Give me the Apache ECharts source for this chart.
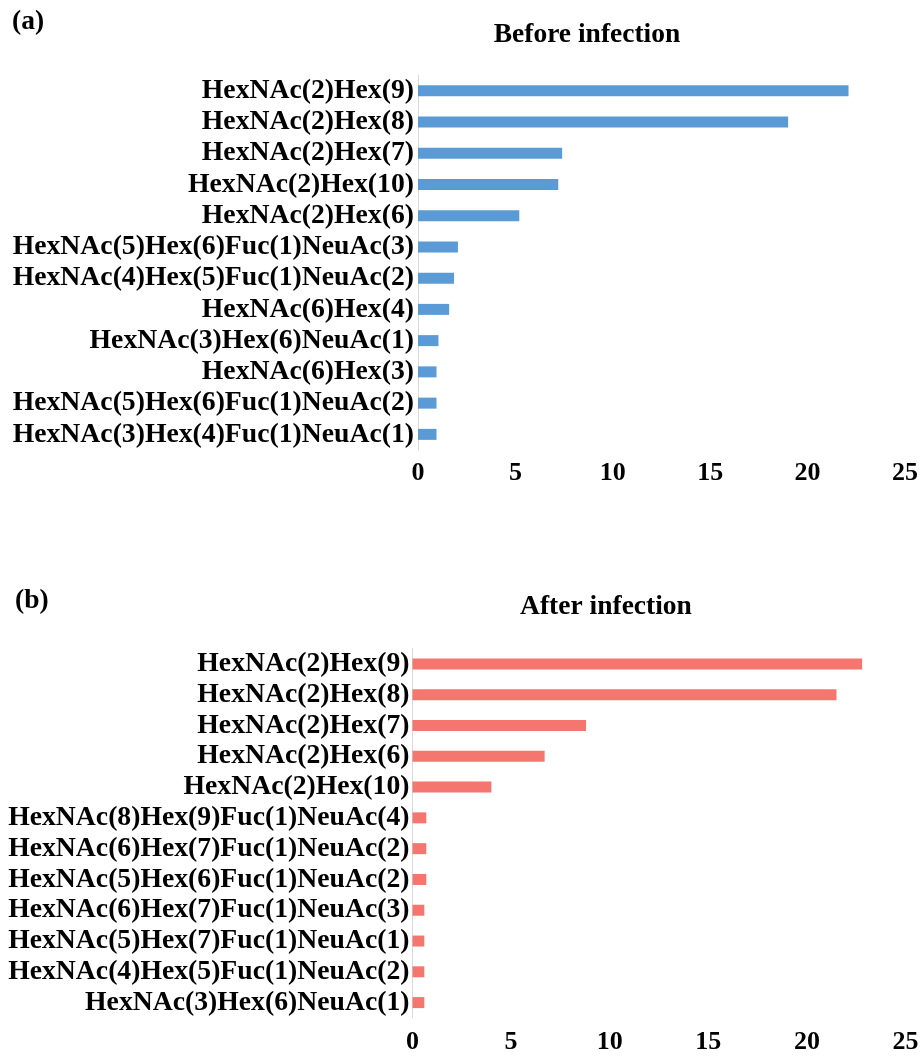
<!DOCTYPE html>
<html>
<head>
<meta charset="utf-8">
<style>
  html, body { margin: 0; padding: 0; background: #fff; }
  #chart { width: 922px; height: 1064px; }
</style>
<script src="https://cdn.jsdelivr.net/npm/echarts@6/dist/echarts.min.js"></script>
</head>
<body>
<div id="chart"></div>
<script>
// Glycan compositions and relative abundance (%), top row first
const beforeGlycans = [
  'HexNAc(2)Hex(9)', 'HexNAc(2)Hex(8)', 'HexNAc(2)Hex(7)', 'HexNAc(2)Hex(10)',
  'HexNAc(2)Hex(6)', 'HexNAc(5)Hex(6)Fuc(1)NeuAc(3)', 'HexNAc(4)Hex(5)Fuc(1)NeuAc(2)',
  'HexNAc(6)Hex(4)', 'HexNAc(3)Hex(6)NeuAc(1)', 'HexNAc(6)Hex(3)',
  'HexNAc(5)Hex(6)Fuc(1)NeuAc(2)', 'HexNAc(3)Hex(4)Fuc(1)NeuAc(1)'
];
const beforeValues = [22.1, 19.0, 7.4, 7.2, 5.2, 2.05, 1.85, 1.6, 1.05, 0.95, 0.95, 0.95];

const afterGlycans = [
  'HexNAc(2)Hex(9)', 'HexNAc(2)Hex(8)', 'HexNAc(2)Hex(7)', 'HexNAc(2)Hex(6)',
  'HexNAc(2)Hex(10)', 'HexNAc(8)Hex(9)Fuc(1)NeuAc(4)', 'HexNAc(6)Hex(7)Fuc(1)NeuAc(2)',
  'HexNAc(5)Hex(6)Fuc(1)NeuAc(2)', 'HexNAc(6)Hex(7)Fuc(1)NeuAc(3)',
  'HexNAc(5)Hex(7)Fuc(1)NeuAc(1)', 'HexNAc(4)Hex(5)Fuc(1)NeuAc(2)', 'HexNAc(3)Hex(6)NeuAc(1)'
];
const afterValues = [22.8, 21.5, 8.8, 6.7, 4.0, 0.7, 0.7, 0.7, 0.6, 0.6, 0.6, 0.6];

const xTicks = { min: 0, max: 25, interval: 5 };
const panelTitles = ['Before infection', 'After infection'];
const panelTags = ['(a)', '(b)'];

const FONT = '"Liberation Serif", "Times New Roman", serif';
const chart = echarts.init(document.getElementById('chart'), null, { renderer: 'canvas' });

function valueAxis(gridIndex, margin) {
  return {
    type: 'value', gridIndex, min: xTicks.min, max: xTicks.max, interval: xTicks.interval,
    axisLine: { show: false }, axisTick: { show: false }, splitLine: { show: false },
    axisLabel: { color: '#000', fontFamily: FONT, fontWeight: 'bold', fontSize: 26, margin }
  };
}
function categoryAxis(gridIndex, data, margin) {
  return {
    type: 'category', gridIndex, data, inverse: true,
    axisLine: { show: true, lineStyle: { color: '#D9D9D9', width: 1 } },
    axisTick: { show: false },
    axisLabel: { color: '#000', fontFamily: FONT, fontWeight: 'bold', fontSize: 27.7,
                 margin, interval: 0, hideOverlap: false }
  };
}
function textEl(x, y, text, align) {
  return {
    type: 'text', x, y,
    style: { text, fill: '#000', font: 'bold 27.5px ' + FONT, textAlign: align, textVerticalAlign: 'middle' }
  };
}

chart.setOption({
  animation: false,
  backgroundColor: '#fff',
  grid: [
    { left: 418, right: 17, top: 75, height: 375 },
    { left: 412.5, right: 16.5, top: 648.5, height: 369.5 }
  ],
  xAxis: [valueAxis(0, 10), valueAxis(1, 11)],
  yAxis: [categoryAxis(0, beforeGlycans, 4), categoryAxis(1, afterGlycans, 3)],
  series: [
    { type: 'bar', xAxisIndex: 0, yAxisIndex: 0, data: beforeValues, barWidth: 11,
      itemStyle: { color: '#5B9BD5' } },
    { type: 'bar', xAxisIndex: 1, yAxisIndex: 1, data: afterValues, barWidth: 11,
      itemStyle: { color: '#F4766E' } }
  ],
  graphic: [
    textEl(12, 22, panelTags[0], 'left'),
    textEl(15, 601, panelTags[1], 'left'),
    textEl(587, 35, panelTitles[0], 'center'),
    textEl(606, 607, panelTitles[1], 'center')
  ]
});
</script>
</body>
</html>
